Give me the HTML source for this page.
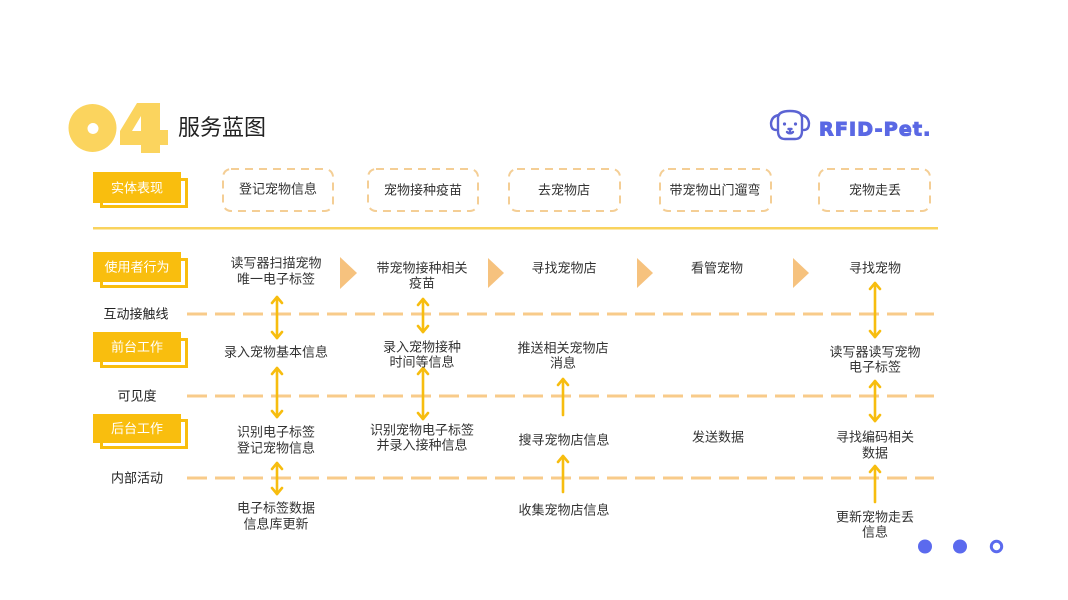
<!DOCTYPE html>
<html><head><meta charset="utf-8">
<style>
html,body{margin:0;padding:0;background:#fff;}
body{width:1068px;height:600px;overflow:hidden;position:relative;}
svg{position:absolute;left:0;top:0;}
text{font-family:"Liberation Sans","Noto Sans CJK SC",sans-serif;}
</style></head>
<body>
<svg width="1068" height="600" viewBox="0 0 1068 600" xmlns="http://www.w3.org/2000/svg">
  <!-- 04 -->
  <path fill="#FBD45E" fill-rule="evenodd" d="M92.5 104 a24 24 0 1 0 0.01 0 Z M93 123 a5.5 5.5 0 1 1 -0.01 0 Z"/>
  <path fill="#FBD45E" fill-rule="evenodd" d="M141 103 L160 103 L160 130 L168 130 L168 145 L160 145 L160 153 L141 153 L141 145 L120 145 L120 131 L137 103 Z M141 116 L141 131 L132 131 Z"/>
  <text x="178" y="135" font-size="22" fill="#222">服务蓝图</text>

  <!-- logo dog -->
  <g fill="none" stroke="#5B63D3" stroke-width="2.4" stroke-linecap="round" stroke-linejoin="round">
    <path d="M778 118 Q778 111 790 111 Q802 111 802 118 L802 131 Q802 139 795 139 L785 139 Q778 139 778 131 Z"/>
    <path d="M779 115 Q772 116 771 123 Q771 130 776 130"/>
    <path d="M801 115 Q808 116 809 123 Q809 130 804 130"/>
    <path d="M787 132 Q790 135 790 131 Q790 135 793 132"/>
    <path d="M788.5 129 L791.5 129"/>
  </g>
  <circle cx="784.5" cy="124" r="1.6" fill="#5B63D3"/>
  <circle cx="795.5" cy="124" r="1.6" fill="#5B63D3"/>
  <text x="819" y="135.5" font-size="19" font-weight="bold" fill="#5A68E4" stroke="#5A68E4" stroke-width="1.1" letter-spacing="1.2" style="font-family:'DejaVu Sans',sans-serif">RFID-Pet.</text>

  <!-- Row label boxes -->
  <g>
    <rect x="101.5" y="179.5" width="85" height="27" fill="#fff" stroke="#F9BE0E" stroke-width="3"/>
    <rect x="93" y="172" width="88" height="31" fill="#F9BE0E"/>
    <text x="137" y="188" font-size="13" fill="#fff" text-anchor="middle" dominant-baseline="central">实体表现</text>

    <rect x="101.5" y="259.5" width="85" height="27" fill="#fff" stroke="#F9BE0E" stroke-width="3"/>
    <rect x="93" y="252" width="88" height="30" fill="#F9BE0E"/>
    <text x="137" y="267" font-size="13" fill="#fff" text-anchor="middle" dominant-baseline="central">使用者行为</text>

    <rect x="101.5" y="339.5" width="85" height="27" fill="#fff" stroke="#F9BE0E" stroke-width="3"/>
    <rect x="93" y="332" width="88" height="30" fill="#F9BE0E"/>
    <text x="137" y="347" font-size="13" fill="#fff" text-anchor="middle" dominant-baseline="central">前台工作</text>

    <rect x="101.5" y="420.5" width="85" height="27" fill="#fff" stroke="#F9BE0E" stroke-width="3"/>
    <rect x="93" y="414" width="88" height="29" fill="#F9BE0E"/>
    <text x="137" y="428.5" font-size="13" fill="#fff" text-anchor="middle" dominant-baseline="central">后台工作</text>
  </g>

  <!-- dashed boxes -->
  <g fill="none" stroke="#F4CE95" stroke-width="2" stroke-dasharray="8 6">
    <rect x="223" y="169" width="110" height="42" rx="8"/>
    <rect x="368" y="169" width="110" height="42" rx="8"/>
    <rect x="509" y="169" width="111" height="42" rx="8"/>
    <rect x="660" y="169" width="111" height="42" rx="8"/>
    <rect x="819" y="169" width="111" height="42" rx="8"/>
  </g>
  <g font-size="13" fill="#333" text-anchor="middle" dominant-baseline="central">
    <text x="278" y="189">登记宠物信息</text>
    <text x="423" y="190">宠物接种疫苗</text>
    <text x="564" y="190">去宠物店</text>
    <text x="715" y="190">带宠物出门遛弯</text>
    <text x="875" y="190">宠物走丢</text>
  </g>

  <!-- solid line -->
  <rect x="93" y="227" width="845" height="2.5" fill="#F9D35E"/>

  <!-- dashed horizontal lines -->
  <g stroke="#F8CB8A" stroke-width="3" stroke-dasharray="20 8">
    <line x1="187" y1="314" x2="934" y2="314"/>
    <line x1="187" y1="396" x2="934" y2="396"/>
    <line x1="187" y1="478" x2="934" y2="478"/>
  </g>
  <g font-size="13" fill="#222" text-anchor="middle" dominant-baseline="central">
    <text x="136" y="314">互动接触线</text>
    <text x="137" y="396">可见度</text>
    <text x="137" y="478">内部活动</text>
  </g>

  <!-- chevrons -->
  <g fill="#F6C27E">
    <polygon points="340,257 357,273 340,289"/>
    <polygon points="488,258 504,273 488,288"/>
    <polygon points="637,258 653,273 637,288"/>
    <polygon points="793,258 809,273 793,288"/>
  </g>

  <!-- arrows -->
  <g fill="none" stroke="#F7BD0F" stroke-width="2.6" stroke-linecap="round" stroke-linejoin="round">
    <line x1="277" y1="297" x2="277" y2="338"/>
    <polyline points="272,303 277,297 282,303"/><polyline points="272,332 277,338 282,332"/>
    <line x1="277" y1="368" x2="277" y2="417"/>
    <polyline points="272,374 277,368 282,374"/><polyline points="272,411 277,417 282,411"/>
    <line x1="277" y1="463" x2="277" y2="494"/>
    <polyline points="272,469 277,463 282,469"/><polyline points="272,488 277,494 282,488"/>
    <line x1="423" y1="299" x2="423" y2="332"/>
    <polyline points="418,305 423,299 428,305"/><polyline points="418,326 423,332 428,326"/>
    <line x1="423" y1="368" x2="423" y2="419"/>
    <polyline points="418,374 423,368 428,374"/><polyline points="418,413 423,419 428,413"/>
    <line x1="563" y1="379" x2="563" y2="415"/>
    <polyline points="558,385 563,379 568,385"/>
    <line x1="563" y1="456" x2="563" y2="492"/>
    <polyline points="558,462 563,456 568,462"/>
    <line x1="875" y1="283" x2="875" y2="337"/>
    <polyline points="870,289 875,283 880,289"/><polyline points="870,331 875,337 880,331"/>
    <line x1="875" y1="381" x2="875" y2="421"/>
    <polyline points="870,387 875,381 880,387"/><polyline points="870,415 875,421 880,415"/>
    <line x1="875" y1="466" x2="875" y2="502"/>
    <polyline points="870,472 875,466 880,472"/>
  </g>

  <!-- body text -->
  <g font-size="13" fill="#333" text-anchor="middle" dominant-baseline="central">
    <text x="276" y="263">读写器扫描宠物</text>
    <text x="276" y="279">唯一电子标签</text>
    <text x="422" y="268">带宠物接种相关</text>
    <text x="422" y="283">疫苗</text>
    <text x="564" y="268">寻找宠物店</text>
    <text x="717" y="268">看管宠物</text>
    <text x="875" y="268">寻找宠物</text>

    <text x="276" y="352">录入宠物基本信息</text>
    <text x="422" y="347">录入宠物接种</text>
    <text x="422" y="362">时间等信息</text>
    <text x="563" y="348">推送相关宠物店</text>
    <text x="563" y="363">消息</text>
    <text x="875" y="352">读写器读写宠物</text>
    <text x="875" y="367">电子标签</text>

    <text x="276" y="432">识别电子标签</text>
    <text x="276" y="448">登记宠物信息</text>
    <text x="422" y="430">识别宠物电子标签</text>
    <text x="422" y="445">并录入接种信息</text>
    <text x="564" y="440">搜寻宠物店信息</text>
    <text x="718" y="437">发送数据</text>
    <text x="875" y="437">寻找编码相关</text>
    <text x="875" y="453">数据</text>

    <text x="276" y="508">电子标签数据</text>
    <text x="276" y="524">信息库更新</text>
    <text x="564" y="510">收集宠物店信息</text>
    <text x="875" y="517">更新宠物走丢</text>
    <text x="875" y="532">信息</text>
  </g>

  <!-- dots -->
  <circle cx="925" cy="546.5" r="7" fill="#5B6AEE"/>
  <circle cx="960" cy="546.5" r="7" fill="#5B6AEE"/>
  <circle cx="996.5" cy="546.5" r="5.2" fill="none" stroke="#5B6AEE" stroke-width="3"/>
</svg>
</body></html>
